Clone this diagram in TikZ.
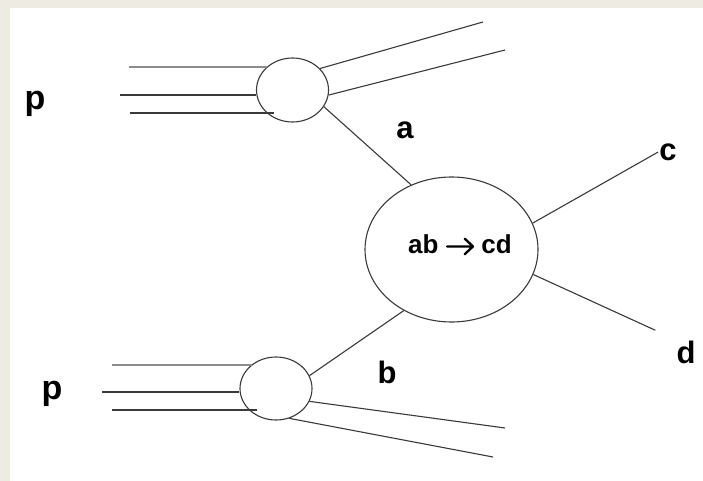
\documentclass[tikz,border=0pt]{standalone}
\usepackage{fontspec}
\setmainfont{Liberation Sans}
\usepackage{tikz}
\usetikzlibrary{shapes.geometric}
\definecolor{frame}{HTML}{EEEBE2}
\definecolor{ink}{HTML}{3A3A3A}
\definecolor{softink}{HTML}{8C8C8C}
\newcommand{\goesto}{\tikz[baseline=-0.27em]\draw[line width=0.09em,line cap=round,line join=round]
  (0,0) -- (1em,0) (0.68em,0.3em) -- (1em,0) -- (0.68em,-0.3em);}

\begin{document}
\begin{tikzpicture}[x=1pt,y=-1pt,
  blob/.style={draw=ink,line width=1.1pt,ellipse,inner sep=0pt},
  wire/.style={ink,line width=1.1pt},
  tag/.style={font=\fontsize{31}{34}\selectfont\bfseries,inner sep=1pt}]
  \fill[frame] (0,0) rectangle (703,481);
  \fill[white] (10,8) rectangle (703,481);
  \useasboundingbox (0,0) rectangle (703,481);

  \node[blob,minimum width=72pt,minimum height=64pt] (topblob) at (292.5,90) {};
  \node[blob,minimum width=72pt,minimum height=63pt] (botblob) at (276,388.5) {};
  \node[blob,minimum width=173pt,minimum height=145pt] (hard) at (451.5,249.5) {};
  \node[font=\fontsize{26}{30}\selectfont\bfseries] (proc) at (460,245)
    {ab\hspace{0.28em}\goesto\hspace{0.28em}cd};

  \node[tag,font=\fontsize{34}{36}\selectfont\bfseries] (ptop) at (35,103.5) {p};
  \node[tag,font=\fontsize{34}{36}\selectfont\bfseries] (pbot) at (52,394) {p};
  \node[tag] (a) at (405,130) {a};
  \node[tag] (b) at (387,372) {b};
  \node[tag] (c) at (668,152) {c};
  \node[tag] (d) at (686,352) {d};

  \coordinate (pa1) at (129,67);
  \coordinate (pa2) at (120,95);
  \coordinate (pa3) at (130,113);
  \coordinate (pb1) at (112,365);
  \coordinate (pb2) at (102,392);
  \coordinate (pb3) at (112,410);
  \coordinate (qa1) at (483,22);
  \coordinate (qa2) at (505,50);
  \coordinate (qb1) at (505,428);
  \coordinate (qb2) at (493,457);

  \draw[wire,softink] (pa1) -- (pa1 -| topblob.137);
  \draw[wire] (pa2) -- (pa2 -| topblob.west);
  \draw[wire] (pa3) -- (pa3 -| topblob.236);
  \draw[wire,softink] (pb1) -- (pb1 -| botblob.135);
  \draw[wire] (pb2) -- (pb2 -| botblob.west);
  \draw[wire] (pb3) -- (pb3 -| botblob.235);

  \draw[wire] (topblob.38) -- (qa1);
  \draw[wire] (topblob.-8) -- (qa2);
  \draw[wire] (botblob.-21) -- (qb1);
  \draw[wire] (botblob.-66) -- (qb2);

  \draw[wire] (topblob.-28) -- (hard.122);
  \draw[wire] (botblob.21) -- (hard.-128);
  \draw[wire] (hard.18) -- (c.west);
  \draw[wire,shorten >=22pt] (hard.-17) -- (d.north west);
\end{tikzpicture}
\end{document}
